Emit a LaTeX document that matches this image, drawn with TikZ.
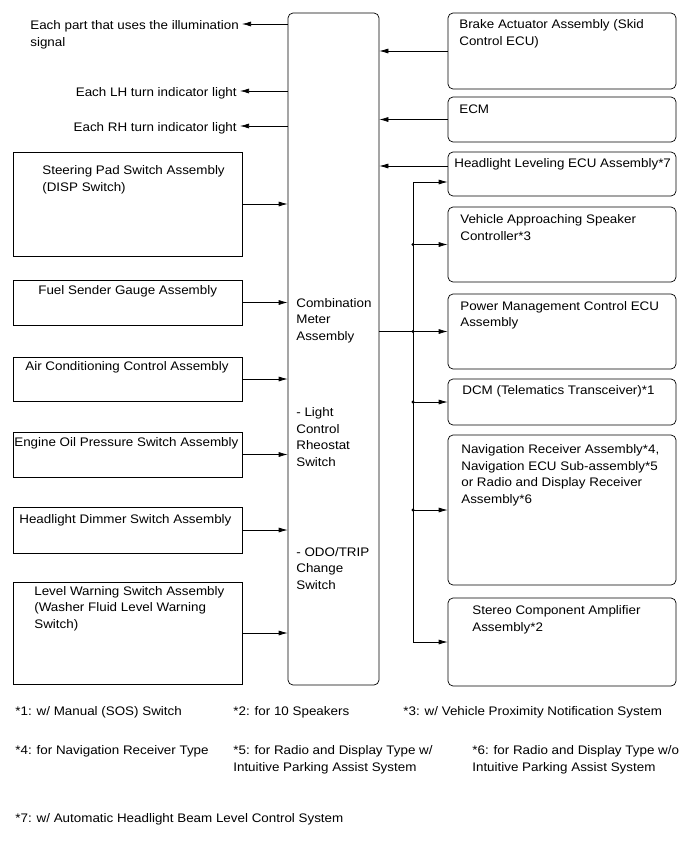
\documentclass[tikz,border=0pt]{standalone}
\usepackage{fontspec}
\setmainfont{Liberation Sans}[FakeStretch=1.08]
\usetikzlibrary{arrows.meta}
\begin{document}
\begin{tikzpicture}[x=1pt,y=-1pt,line width=0.7pt,
  every node/.style={font=\fontsize{12.4}{16.5}\selectfont},
  lbox/.style={draw,minimum width=229pt,inner sep=0pt},
  rbox/.style={draw,rounded corners=5pt,minimum width=228pt,inner sep=0pt},
  txt/.style={anchor=base west,align=left,inner sep=0pt},
  arr/.style={-{Latex[length=9pt,width=5pt]}},
  dot/.style={circle,fill,inner sep=0pt,minimum size=3.2pt}]
\useasboundingbox (0,0) rectangle (691,855);
% Combination meter (text nodes sit on the baseline of their last line)
\node[draw,rounded corners=5pt,minimum width=91pt,minimum height=672pt,inner sep=0pt] (cmb) at (333.5,349) {};
\node[txt] (cmbtxt) at (296,340) {Combination\\Meter\\Assembly};
\node[txt] (rheo) at (296,466) {- Light\\Control\\Rheostat\\Switch};
\node[txt] (odo) at (296,589) {- ODO/TRIP\\Change\\Switch};
% Outputs on the left
\node[txt] (illum) at (30,46) {Each part that uses the illumination\\signal};
\coordinate (illumtip) at (242,24);
\draw[arr] (illumtip -| cmb.west) -- (illumtip);
\node[anchor=base east,inner sep=0pt] (lh) at (237,96) {Each LH turn indicator light};
\coordinate (lhtip) at ([shift={(3,-5)}]lh.base east);
\draw[arr] (lhtip -| cmb.west) -- (lhtip);
\node[anchor=base east,inner sep=0pt] (rh) at (237,131) {Each RH turn indicator light};
\coordinate (rhtip) at ([shift={(3,-5)}]rh.base east);
\draw[arr] (rhtip -| cmb.west) -- (rhtip);
% Inputs on the left
\node[lbox,minimum height=104pt] (steer) at (127.5,204) {};
\node[txt] at (42,191) {Steering Pad Switch Assembly\\(DISP Switch)};
\node[lbox,minimum height=45pt] (fuel) at (127.5,302.5) {};
\node[txt] at (38,294) {Fuel Sender Gauge Assembly};
\node[lbox,minimum height=44pt] (ac) at (127.5,379) {};
\node[txt] at (25,370.5) {Air Conditioning Control Assembly};
\node[lbox,minimum height=45pt] (oil) at (127.5,454.5) {};
\node[txt] at (14,446.5) {Engine Oil Pressure Switch Assembly};
\node[lbox,minimum height=46pt] (dim) at (127.5,530) {};
\node[txt] at (19,523) {Headlight Dimmer Switch Assembly};
\node[lbox,minimum height=102pt] (lvl) at (127.5,633) {};
\node[txt] at (34,628) {Level Warning Switch Assembly\\(Washer Fluid Level Warning\\Switch)};
\foreach \n in {steer,fuel,ac,oil,dim,lvl}
  \draw[arr] (\n.east) -- (\n.east -| cmb.west);
% Units on the right
\node[rbox,minimum height=76pt] (brake) at (562,51) {};
\node[txt] at (459,45) {Brake Actuator Assembly (Skid\\Control ECU)};
\node[rbox,minimum height=45pt] (ecm) at (562,119.5) {};
\node[txt] at (459,113) {ECM};
\node[rbox,minimum height=44pt] (hl) at (562,174) {};
\node[txt] at (454,167.5) {Headlight Leveling ECU Assembly*7};
\node[rbox,minimum height=75pt] (vas) at (562,244.5) {};
\node[txt] at (460,240) {Vehicle Approaching Speaker\\Controller*3};
\node[rbox,minimum height=75pt] (pm) at (562,331.5) {};
\node[txt] at (460,326.5) {Power Management Control ECU\\Assembly};
\node[rbox,minimum height=46pt] (dcm) at (562,402) {};
\node[txt] at (462,394.5) {DCM (Telematics Transceiver)*1};
\node[rbox,minimum height=150pt] (nav) at (562,510) {};
\node[txt] at (461,503) {Navigation Receiver Assembly*4,\\Navigation ECU Sub-assembly*5\\or Radio and Display Receiver\\Assembly*6};
\node[rbox,minimum height=88pt] (stereo) at (562,642) {};
\node[txt] at (472,631) {Stereo Component Amplifier\\Assembly*2};
\foreach \n in {brake,ecm}
  \draw[arr] (\n.west) -- (\n.west -| cmb.east);
\draw[arr] ([yshift=8pt]hl.west) -- ([yshift=8pt]hl.west -| cmb.east);
% Bus from the meter
\coordinate (bus) at (413,332);
\draw (cmb.east |- pm.west) -- (bus |- pm.west);
\draw[arr] (bus |- vas.west) |- ([yshift=-8pt]hl.west);
\draw[arr] (bus |- vas.west) |- (stereo.west);
\foreach \n in {vas,pm,dcm,nav} {
  \draw[arr] (bus |- \n.west) -- (\n.west);
  \node[dot] (dot-\n) at (bus |- \n.west) {};
}
% Notes
\node[txt] (n1) at (15,715.5) {*1: w/ Manual (SOS) Switch};
\node[txt] (n2) at (233,715.5) {*2: for 10 Speakers};
\node[txt] (n3) at (403,715.5) {*3: w/ Vehicle Proximity Notification System};
\node[txt] (n4) at (15,754.5) {*4: for Navigation Receiver Type};
\node[txt] (n5) at (233,771) {*5: for Radio and Display Type w/\\Intuitive Parking Assist System};
\node[txt] (n6) at (472,771) {*6: for Radio and Display Type w/o\\Intuitive Parking Assist System};
\node[txt] (n7) at (15,822) {*7: w/ Automatic Headlight Beam Level Control System};
\end{tikzpicture}
\end{document}
